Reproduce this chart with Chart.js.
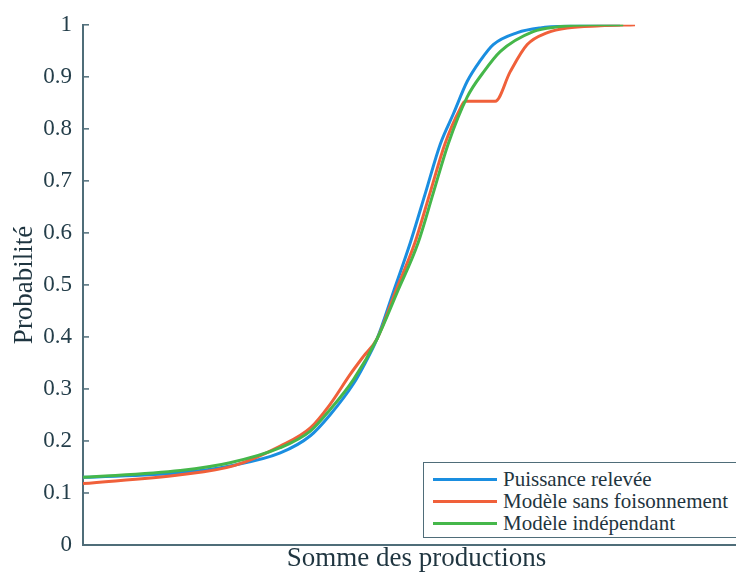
<!DOCTYPE html>
<html>
<head>
<meta charset="utf-8">
<script src="https://cdn.jsdelivr.net/npm/chart.js@4.4.0/dist/chart.umd.min.js"></script>
<style>
  html, body { margin: 0; padding: 0; background: #fff; overflow: hidden; }
  #wrap { position: relative; width: 750px; height: 575px; }
  #legend {
    position: absolute; left: 423px; top: 462px; width: 320px; height: 76px;
    border: 1.5px solid #4f6d79; background: #fff; box-sizing: border-box;
    font-family: "Liberation Serif", "Nimbus Roman", "DejaVu Serif", serif; font-size: 21px; color: #1f3540;
  }
  .row { position: absolute; left: 9px; height: 22px; display: flex; align-items: center; white-space: nowrap; }
  .row .l { display: inline-block; width: 64px; height: 3px; margin-right: 6px; }
</style>
</head>
<body>
<div id="wrap">
  <canvas id="chart" width="750" height="575"></canvas>
  <div id="legend"></div>
</div>
<script>
// valeurs (abscisse en unites arbitraires 0..100)
const labels = ["Puissance relevée", "Modèle sans foisonnement", "Modèle indépendant"];
const colors = ["#1a8ee0", "#f0603a", "#45b74a"];

const xReleve = [0, 14.9, 22.5, 30.2, 34.8, 37.8, 41.4, 43.2, 45.0, 47.5, 50.1, 52.4, 54.7, 56.7, 58.8, 60.8, 62.8, 66.5, 70.0, 74.6, 82.2];
const yReleve = [0.13, 0.139, 0.152, 0.177, 0.21, 0.25, 0.31, 0.35, 0.396, 0.486, 0.581, 0.676, 0.771, 0.829, 0.891, 0.931, 0.962, 0.985, 0.994, 0.998, 1.0];

const xSansFois = [0, 14.9, 23.0, 30.2, 34.8, 37.8, 40.9, 42.9, 45.0, 47.8, 50.8, 53.1, 55.4, 57.7, 58.5, 63.1, 65.4, 68.0, 71.1, 74.1, 79.2, 84.5];
const ySansFois = [0.118, 0.135, 0.152, 0.19, 0.225, 0.27, 0.328, 0.362, 0.396, 0.486, 0.581, 0.676, 0.771, 0.838, 0.853, 0.853, 0.91, 0.962, 0.985, 0.994, 0.998, 1.0];

const xIndep = [0, 14.9, 22.5, 30.2, 34.8, 37.8, 41.4, 45.0, 48.1, 51.3, 53.6, 55.9, 58.8, 61.3, 63.9, 68.9, 72.6, 77.6, 82.7];
const yIndep = [0.13, 0.143, 0.158, 0.187, 0.219, 0.26, 0.318, 0.396, 0.486, 0.581, 0.676, 0.771, 0.861, 0.909, 0.949, 0.987, 0.996, 1.0, 1.0];

const yTickLabels = ["0", "0.1", "0.2", "0.3", "0.4", "0.5", "0.6", "0.7", "0.8", "0.9", "1"];

const axisColor = "#4f6d79";
const textColor = "#243e4a";
const serif = "'Liberation Serif', 'Nimbus Roman', 'DejaVu Serif', serif";

function toPoints(xs, ys) {
  return xs.map((x, i) => ({ x: x, y: ys[i] }));
}

// petits traits de graduation vers l'interieur (style matlab)
const inwardTicks = {
  id: "inwardTicks",
  afterDraw(chart) {
    const ctx = chart.ctx;
    const y = chart.scales.y;
    ctx.save();
    ctx.strokeStyle = axisColor;
    ctx.lineWidth = 1.5;
    y.ticks.forEach((t) => {
      const py = y.getPixelForValue(t.value);
      ctx.beginPath();
      ctx.moveTo(y.right, py);
      ctx.lineTo(y.right + 6, py);
      ctx.stroke();
    });
    ctx.restore();
  },
};

const datasets = [
  { label: labels[0], data: toPoints(xReleve, yReleve), borderColor: colors[0], order: 2 },
  { label: labels[1], data: toPoints(xSansFois, ySansFois), borderColor: colors[1], order: 1 },
  { label: labels[2], data: toPoints(xIndep, yIndep), borderColor: colors[2], order: 0 },
];
datasets.forEach((d) => {
  d.borderWidth = 3;
  d.pointRadius = 0;
  d.fill = false;
  d.cubicInterpolationMode = "monotone";
});

new Chart(document.getElementById("chart").getContext("2d"), {
  type: "line",
  data: { datasets: datasets },
  options: {
    responsive: false,
    animation: false,
    devicePixelRatio: 1,
    layout: { padding: { top: 20, left: 0, right: 0, bottom: 0 } },
    plugins: { legend: { display: false }, tooltip: { enabled: false } },
    scales: {
      x: {
        type: "linear",
        min: 0,
        max: 102.1,
        ticks: { display: false },
        grid: { display: false, drawTicks: false },
        border: { display: true, color: axisColor, width: 2 },
        title: {
          display: true,
          text: "Somme des productions",
          color: "#1f3540",
          font: { family: serif, size: 27 },
          padding: { top: 0, bottom: 0 },
        },
        afterFit(s) { s.height = 30; },
      },
      y: {
        min: 0,
        max: 1,
        ticks: {
          stepSize: 0.1,
          padding: 11,
          color: textColor,
          font: { family: serif, size: 23 },
          callback: (v, i) => yTickLabels[i],
        },
        grid: { display: false, drawTicks: false },
        border: { display: true, color: axisColor, width: 2 },
        title: {
          display: true,
          text: "Probabilité",
          color: "#1f3540",
          font: { family: serif, size: 27 },
          padding: { top: 9, bottom: 0 },
        },
        afterFit(s) { s.width = 83; },
      },
    },
  },
  plugins: [inwardTicks],
});

// legende encadree en bas a droite
const legend = document.getElementById("legend");
const rowTops = [5, 27, 49];
labels.forEach((lab, i) => {
  const row = document.createElement("div");
  row.className = "row";
  row.style.top = rowTops[i] + "px";
  const line = document.createElement("span");
  line.className = "l";
  line.style.background = colors[i];
  const txt = document.createElement("span");
  txt.textContent = lab;
  row.appendChild(line);
  row.appendChild(txt);
  legend.appendChild(row);
});
</script>
</body>
</html>
